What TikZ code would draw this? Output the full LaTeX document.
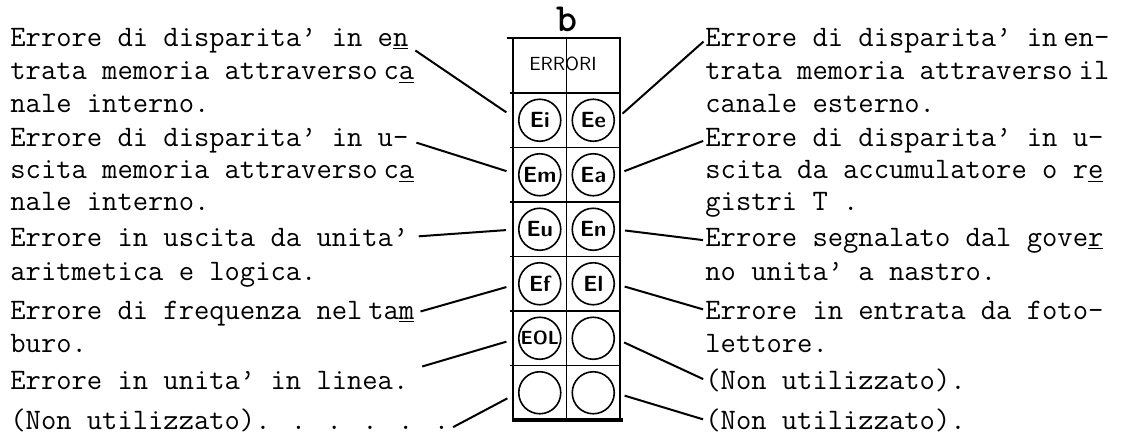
\documentclass[tikz,border=0pt]{standalone}
\usepackage{fontspec}
\usetikzlibrary{positioning}
\newcommand{\cut}[1]{\underline{#1}}
\newcommand{\tsp}{\hspace{0.2em}}

\begin{document}
\begin{tikzpicture}[x=0.5pt,y=-0.5pt, every node/.style={inner sep=0pt},
  txt/.style={anchor=base west, font=\ttfamily\fontsize{14.86pt}{16pt}\selectfont},
  lamp/.style={draw, circle, line width=0.8pt, minimum size=21pt, font=\sffamily\bfseries\fontsize{11pt}{12pt}\selectfont},
  leader/.style={line width=1pt},
  grid/.style={line width=0.6pt}]
  \useasboundingbox (0,0) rectangle (1128,434);

  \node[font=\ttfamily\bfseries\fontsize{20pt}{21pt}\selectfont] (col) at (567,19) {b};
  \draw[line width=1.3pt] (507,38) -- (621,38);
  \draw[grid] (513,38) -- (513,420);
  \draw[grid] (566.5,38) -- (566.5,420);
  \draw[line width=1.3pt] (620,38) -- (620,420);
  \draw[line width=1.6pt] (512,420) -- (623,420);
  \draw[grid] (510,93) -- (620,93);
  \draw[grid] (510,147.5) -- (620,147.5);
  \draw[grid] (510,202) -- (620,202);
  \draw[grid] (510,256.5) -- (620,256.5);
  \draw[grid] (510,311) -- (620,311);
  \draw[grid] (510,365.5) -- (620,365.5);
  \node[font=\sffamily\fontsize{9.5pt}{10pt}\selectfont\addfontfeatures{LetterSpace=18}] (head) at (563,64) {ERRORI};

  \node[lamp] (ei) at (539.75,120.25) {Ei};
  \node[lamp] (ee) at (593.25,120.25) {Ee};
  \node[lamp] (em) at (539.75,174.75) {Em};
  \node[lamp] (ea) at (593.25,174.75) {Ea};
  \node[lamp] (eu) at (539.75,229.25) {Eu};
  \node[lamp] (en) at (593.25,229.25) {En};
  \node[lamp] (ef) at (539.75,283.75) {Ef};
  \node[lamp] (el) at (593.25,283.75) {El};
  \node[lamp, font=\sffamily\bfseries\fontsize{9.5pt}{10pt}\selectfont] (eol) at (539.75,338.25) {EOL};
  \node[lamp] (free5) at (593.25,338.25) {};
  \node[lamp] (free6l) at (539.75,392.75) {};
  \node[lamp] (free6r) at (593.25,392.75) {};

  \node[txt] (l1) at (10,46) {Errore di disparita’ in e\cut{n}};
  \node[txt] (l2) at (10,79) {trata memoria attraverso\tsp c\cut{a}};
  \node[txt] (l3) at (10,112) {nale interno.};
  \node[txt] (l4) at (10,146) {Errore di disparita’ in u-};
  \node[txt] (l5) at (10,178) {scita memoria attraverso\tsp c\cut{a}};
  \node[txt] (l6) at (10,210) {nale interno.};
  \node[txt] (l7) at (10,246) {Errore in uscita da unita’};
  \node[txt] (l8) at (10,280) {aritmetica e logica.};
  \node[txt] (l9) at (10,319) {Errore di frequenza nel\tsp ta\cut{m}};
  \node[txt] (l10) at (10,352) {buro.};
  \node[txt] (l11) at (10,389) {Errore in unita’ in linea.};
  \node[txt] (l12) at (10,429) {(Non utilizzato). . . . . .};

  \node[txt] (r1) at (705,46) {Errore di disparita’ in\tsp en-};
  \node[txt] (r2) at (705,79) {trata memoria attraverso\tsp il};
  \node[txt] (r3) at (705,112) {canale esterno.};
  \node[txt] (r4) at (705,146) {Errore di disparita’ in u-};
  \node[txt] (r5) at (705,178) {scita da accumulatore o r\cut{e}};
  \node[txt] (r6) at (705,210) {gistri T .};
  \node[txt] (r7) at (705,246) {Errore segnalato dal gove\cut{r}};
  \node[txt] (r8) at (705,280) {no unita’ a nastro.};
  \node[txt] (r9) at (705,319) {Errore in entrata da foto-};
  \node[txt] (r10) at (705,352) {lettore.};
  \node[txt] (r11) at (705,389) {(Non utilizzato).};
  \node[txt] (r12) at (705,429) {(Non utilizzato).};

  \draw[leader, shorten <=4pt, shorten >=7pt] (l1.base east) -- (ei.west);
  \draw[leader, shorten <=4pt, shorten >=6pt] (l4.east) -- (em.west);
  \draw[leader, shorten <=5pt, shorten >=6pt] (l7.east) -- (eu.west);
  \draw[leader, shorten <=3pt, shorten >=6pt] (l9.east) -- (ef.west);
  \draw[leader, shorten <=7pt, shorten >=6pt] (l11.north east) -- (eol.west);
  \draw[leader, shorten <=2pt, shorten >=6pt] (l12.base east) -- (free6l.west);

  \draw[leader, shorten <=5pt, shorten >=1pt] (ee.east) -- (r1.west);
  \draw[leader, shorten <=5pt, shorten >=1pt] (ea.east) -- (r4.west);
  \draw[leader, shorten <=5pt, shorten >=1pt] (en.east) -- (r7.west);
  \draw[leader, shorten <=5pt, shorten >=1pt] (el.east) -- (r9.west);
  \draw[leader, shorten <=5pt, shorten >=1pt] (free5.east) -- (r11.west);
  \draw[leader, shorten <=5pt, shorten >=1pt] (free6r.east) -- (r12.west);
\end{tikzpicture}
\end{document}
